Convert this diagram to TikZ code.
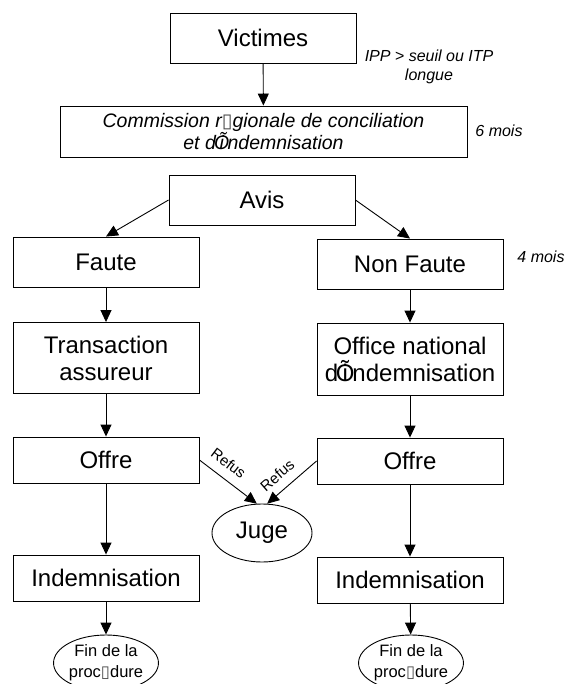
\documentclass[tikz,border=0pt]{standalone}
\usepackage{fontspec}
\setmainfont{Liberation Sans}
\newfontfamily\symfont{DejaVu Sans}
\usetikzlibrary{shapes.geometric}
\usetikzlibrary{arrows.meta}
\newcommand{\nochar}{{\symfont\textcolor{black!70}{▯}}}
\newcommand{\dapos}{d\makebox[0.6em]{Õ}\llap{i\kern0.19em}}
\tikzset{
  etape/.style={
    % The shape:
    shape=rectangle,
    % The size:
    minimum width=186pt,minimum height=50pt,inner sep=0pt,
    % The border:
    draw=black,line width=0.9pt,
    % The text:
    align=center,font=\fontsize{24}{27}\selectfont
  }}
\tikzset{
	issue/.style={
		% The shape:
		shape=ellipse,inner sep=0pt,
		% The rest
		draw=black,line width=0.9pt,align=center}}
\tikzset{
	delai/.style={font=\fontsize{16}{19}\selectfont\itshape,align=center}}
\tikzset{
	refus/.style={sloped,anchor=south,inner sep=9pt,font=\fontsize{15}{17}\selectfont}}

\begin{document}
\begin{tikzpicture}[x=1pt,y=-1pt,line width=0.9pt,>={Triangle[length=12pt,width=11pt]}]
	\clip (0,0) rectangle (565,684);
	\node[etape] (vict) at (263,38) {Victimes};
	\node[etape,minimum width=407pt,minimum height=51pt,font=\fontsize{19.5}{22}\selectfont\itshape] (comm) at (263.5,131.5) {Commission r\nochar gionale de conciliation\\et \dapos ndemnisation};
	\node[delai] (seuil) at (429,67) {IPP > seuil ou ITP\\longue};
	\node[delai] (six) at (499,131) {6 mois};
	\node[etape] (avis) at (262,200) {Avis};
	\node[etape] (faute) at (106,262) {Faute};
	\node[etape] (nonfaute) at (410,264) {Non Faute};
	\node[delai] (quatre) at (541,257) {4 mois};
	\node[etape,minimum height=71pt] (trans) at (106,358) {Transaction\\assureur};
	\node[etape,minimum height=72pt] (oniam) at (410,359) {Office national\\\dapos ndemnisation};
	\node[etape,minimum height=46pt] (offreg) at (106,460) {Offre};
	\node[etape,minimum height=46pt] (offred) at (410,461) {Offre};
	\node[issue,minimum width=100pt,minimum height=58pt,font=\fontsize{24}{27}\selectfont] (juge) at (262,533) {Juge};
	\node[etape,minimum height=46pt] (indemg) at (106,578) {Indemnisation};
	\node[etape,minimum height=46pt] (indemd) at (410,580) {Indemnisation};
	\node[issue,minimum width=101pt,minimum height=56pt,font=\fontsize{16.5}{21}\selectfont] (fing) at (106,663) {Fin de la\\proc\nochar dure};
	\node[issue,minimum width=101pt,minimum height=56pt,font=\fontsize{16.5}{21}\selectfont] (find) at (411,663) {Fin de la\\proc\nochar dure};
	% Line out of vict
	\draw[->] (vict) -- (comm);
	% Lines out of avis
	\draw[->] (avis.west) -- (faute.north);
	\draw[->] (avis.east) -- (nonfaute.north);
	% Left branch
	\draw[->] (faute) -- (trans);
	\draw[->] (trans) -- (offreg);
	\draw[->] (offreg) -- (indemg);
	\draw[->] (indemg) -- (fing);
	% Right branch
	\draw[->] (nonfaute) -- (oniam);
	\draw[->] (oniam) -- (offred);
	\draw[->] (offred) -- (indemd);
	\draw[->] (indemd) -- (find);
	% Lines into juge
	\draw[->] (offreg.east) -- (juge.100) node[refus,pos=0.35] {Refus};
	\draw[->] (offred.west) -- (juge.80) node[refus,pos=0.6] {Refus};
\end{tikzpicture}
\end{document}
